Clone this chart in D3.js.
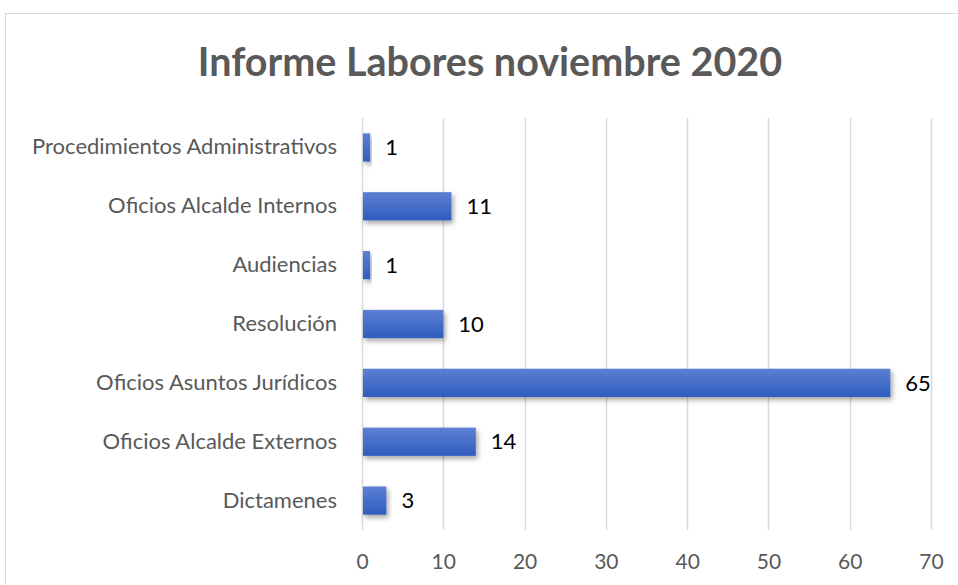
<!DOCTYPE html>
<html>
<head>
<meta charset="utf-8">
<script src="https://cdn.jsdelivr.net/npm/d3@7"></script>
<style>
  body { margin: 0; background: #fff; }
  svg { display: block; }
</style>
</head>
<body>
<div id="chart"></div>
<script>
// datos del grafico
const categorias = ["Procedimientos Administrativos", "Oficios Alcalde Internos", "Audiencias", "Resolución", "Oficios Asuntos Jurídicos", "Oficios Alcalde Externos", "Dictamenes"];
const valores = [1, 11, 1, 10, 65, 14, 3];
const ticks = [0, 10, 20, 30, 40, 50, 60, 70];
const titulo = "Informe Labores noviembre 2020";

const width = 958;
const height = 585;
const margin = { top: 118, right: 27, bottom: 55, left: 362 };
const fuente = "Lato, 'Open Sans', sans-serif";

const svg = d3.select("#chart")
  .append("svg")
  .attr("width", width)
  .attr("height", height);

const defs = svg.append("defs");
const grad = defs.append("linearGradient")
  .attr("id", "barra")
  .attr("x1", 0).attr("y1", 0).attr("x2", 0).attr("y2", 1);
grad.append("stop").attr("offset", "0%").attr("stop-color", "#5d80d2");
grad.append("stop").attr("offset", "100%").attr("stop-color", "#2e5dbf");

const sombra = defs.append("filter")
  .attr("id", "sombra")
  .attr("x", "-20%").attr("y", "-30%").attr("width", "140%").attr("height", "180%");
sombra.append("feDropShadow")
  .attr("dx", 2).attr("dy", 3)
  .attr("stdDeviation", 2.5)
  .attr("flood-color", "#000")
  .attr("flood-opacity", 0.35);

// borde del grafico
svg.append("rect")
  .attr("x", 5.5).attr("y", 13.5)
  .attr("width", 970).attr("height", 600)
  .attr("fill", "none")
  .attr("stroke", "#d9d9d9");

svg.append("text")
  .attr("x", 490)
  .attr("y", 76)
  .attr("text-anchor", "middle")
  .style("font-family", fuente)
  .style("font-weight", "bold")
  .style("font-size", "39.5px")
  .style("fill", "#595959")
  .text(titulo);

const x = d3.scaleLinear()
  .domain([0, 70])
  .range([margin.left, width - margin.right]);

const y = d3.scaleBand()
  .domain(categorias)
  .range([margin.top, height - margin.bottom])
  .paddingInner(0.52)
  .paddingOuter(0.26);

// lineas de cuadricula
svg.append("g")
  .selectAll("line")
  .data(ticks)
  .join("line")
  .attr("x1", d => Math.round(x(d)) + 0.5)
  .attr("x2", d => Math.round(x(d)) + 0.5)
  .attr("y1", margin.top)
  .attr("y2", height - margin.bottom)
  .attr("stroke", "#d9d9d9")
  .attr("stroke-width", 1.5);

const xAxis = svg.append("g")
  .attr("transform", `translate(0, ${height - margin.bottom})`)
  .call(d3.axisBottom(x).tickValues(ticks).tickSize(0).tickPadding(24));
xAxis.select(".domain").remove();
xAxis.selectAll("text")
  .style("font-family", fuente)
  .style("font-size", "21px")
  .style("fill", "#595959");

const yAxis = svg.append("g")
  .attr("transform", `translate(${margin.left - 25}, 0)`)
  .call(d3.axisLeft(y).tickSize(0).tickPadding(0));
yAxis.select(".domain").remove();
yAxis.selectAll("text")
  .style("font-family", fuente)
  .style("font-size", "22px")
  .style("fill", "#595959");

// barras
svg.append("g")
  .selectAll("rect")
  .data(valores)
  .join("rect")
  .attr("x", x(0) + 1)
  .attr("y", (d, i) => y(categorias[i]))
  .attr("width", d => x(d) - x(0) - 1)
  .attr("height", y.bandwidth())
  .attr("fill", "url(#barra)")
  .attr("filter", "url(#sombra)");

// etiquetas de valor
svg.append("g")
  .selectAll("text")
  .data(valores)
  .join("text")
  .attr("x", d => x(d) + 15)
  .attr("y", (d, i) => y(categorias[i]) + y.bandwidth() / 2)
  .attr("dy", "0.35em")
  .style("font-family", fuente)
  .style("font-size", "22px")
  .style("fill", "#000")
  .text(d => d);
</script>
</body>
</html>
